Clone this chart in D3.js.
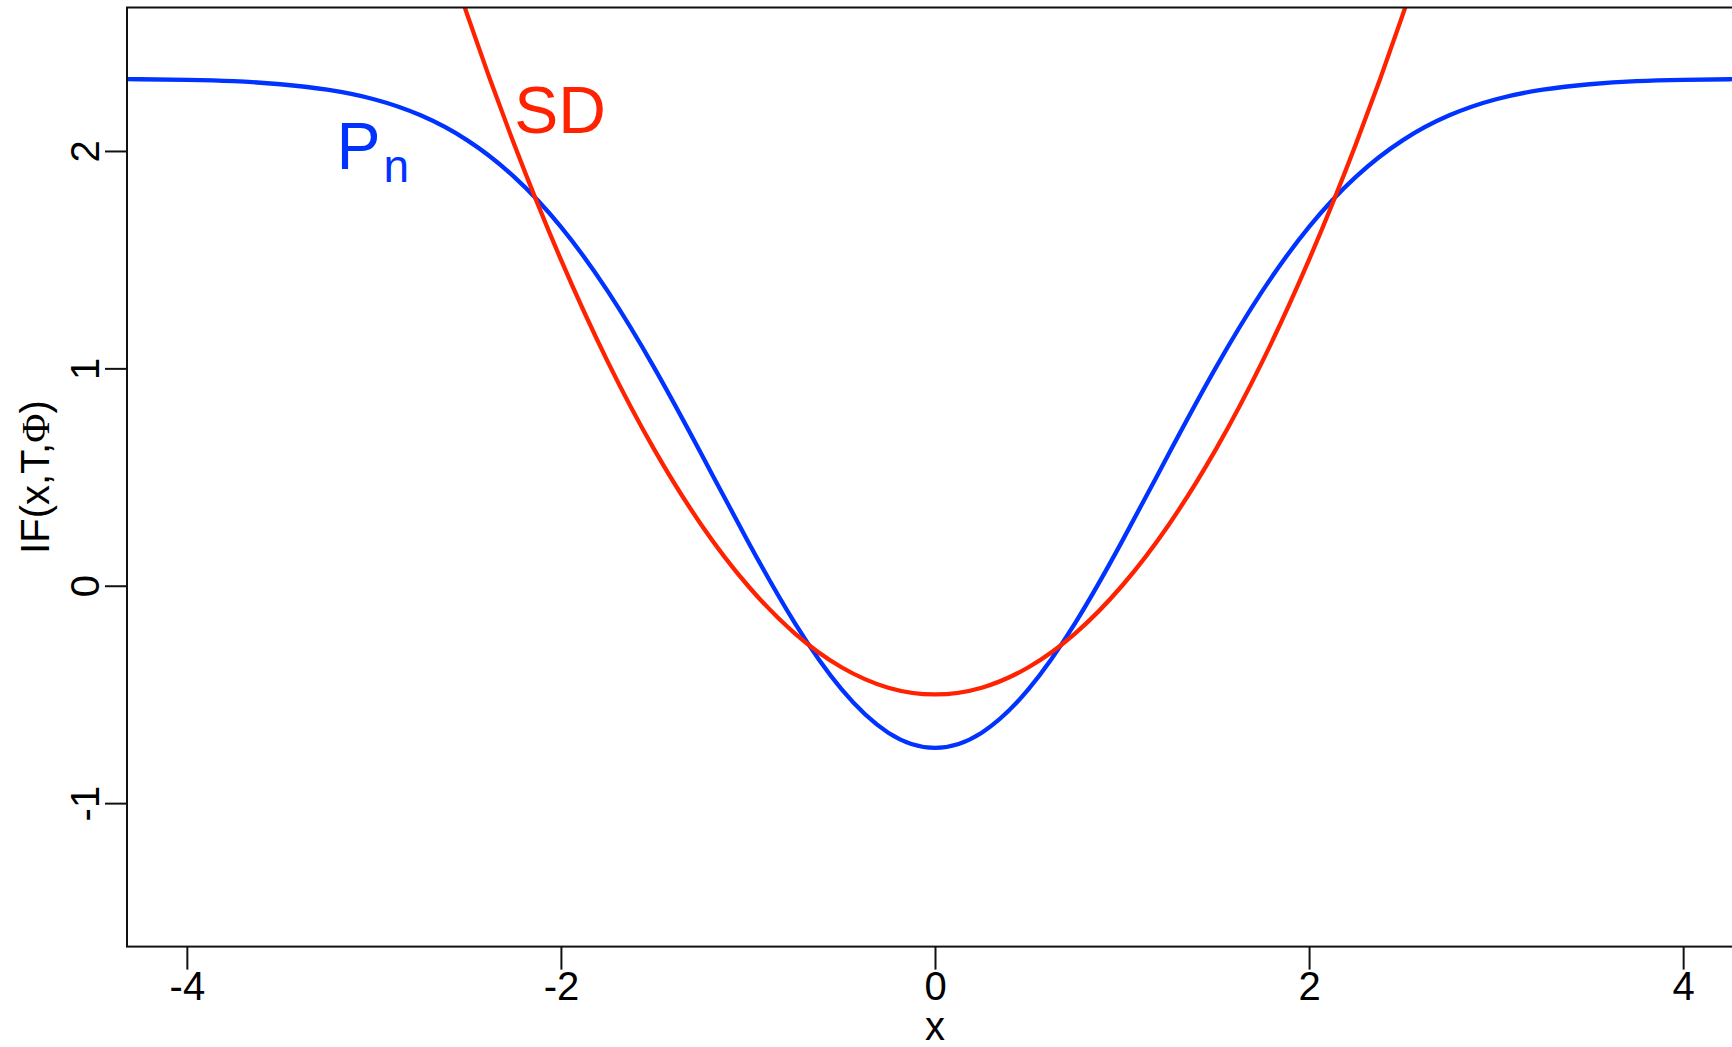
<!DOCTYPE html>
<html>
<head>
<meta charset="utf-8">
<script src="https://cdn.jsdelivr.net/npm/d3@7"></script>
<style>
  html, body { margin: 0; padding: 0; background: #ffffff; overflow: hidden; }
  svg { display: block; }
  text { font-family: "Liberation Sans", Arial, Helvetica, sans-serif; }
</style>
</head>
<body>
<svg id="chart" width="1732" height="1047"></svg>
<script>
// ---- data ----
const xTicks = [-4, -2, 0, 2, 4];
const yTicks = [-1, 0, 1, 2];
const xDomain = [-4.32, 4.32];
const yDomain = [-1.66, 2.66];

const pnX = [-4.5, -4.25, -4, -3.75, -3.5, -3.25, -3, -2.75, -2.5, -2.25, -2, -1.75, -1.5, -1.25, -1, -0.75, -0.5, -0.25,
             0, 0.25, 0.5, 0.75, 1, 1.25, 1.5, 1.75, 2, 2.25, 2.5, 2.75, 3, 3.25, 3.5, 3.75, 4, 4.25, 4.5];
const pnY = [2.332, 2.330, 2.327, 2.321, 2.307, 2.282, 2.238, 2.164, 2.049, 1.881, 1.651, 1.355, 1.001, 0.607, 0.204, -0.171, -0.476, -0.676,
             -0.746, -0.676, -0.476, -0.171, 0.204, 0.607, 1.001, 1.355, 1.651, 1.881, 2.049, 2.164, 2.238, 2.282, 2.307, 2.321, 2.327, 2.330, 2.332];

const sdX = [-2.75, -2.5, -2.25, -2, -1.75, -1.5, -1.25, -1, -0.75, -0.5, -0.25, 0, 0.25, 0.5, 0.75, 1, 1.25, 1.5, 1.75, 2, 2.25, 2.5, 2.75];
const sdY = [3.281, 2.625, 2.031, 1.5, 1.031, 0.625, 0.281, 0, -0.219, -0.375, -0.469, -0.5, -0.469, -0.375, -0.219, 0, 0.281, 0.625, 1.031, 1.5, 2.031, 2.625, 3.281];

const seriesNames = ["P", "SD"];
const seriesColors = ["#0033ff", "#ff2200"];
const xTitle = "x";

// ---- layout ----
const svg = d3.select("#chart");
const mLeft = 127, mRight = 1743, mTop = 7.5, mBottom = 946.6;

const x = d3.scaleLinear().domain(xDomain).range([mLeft, mRight]);
const y = d3.scaleLinear().domain(yDomain).range([mBottom, mTop]);
const plainFormat = d => String(d); // hyphen-minus like the reference

svg.append("rect").attr("width", 1732).attr("height", 1047).attr("fill", "#fff");

svg.append("defs").append("clipPath").attr("id", "plotclip")
  .append("rect").attr("x", mLeft).attr("y", mTop).attr("width", mRight - mLeft).attr("height", mBottom - mTop);

const line = d3.line().x(d => x(d[0])).y(d => y(d[1])).curve(d3.curveNatural);

const plot = svg.append("g").attr("clip-path", "url(#plotclip)");
plot.append("path")
  .datum(pnX.map((v, i) => [v, pnY[i]]))
  .attr("d", line).attr("fill", "none")
  .attr("stroke", seriesColors[0]).attr("stroke-width", 4.3).attr("stroke-linejoin", "round");
plot.append("path")
  .datum(sdX.map((v, i) => [v, sdY[i]]))
  .attr("d", line).attr("fill", "none")
  .attr("stroke", seriesColors[1]).attr("stroke-width", 4.3).attr("stroke-linejoin", "round");

// box (right side falls outside the page)
svg.append("rect").attr("x", mLeft).attr("y", mTop).attr("width", mRight - mLeft).attr("height", mBottom - mTop)
  .attr("fill", "none").attr("stroke", "#111").attr("stroke-width", 2);

// x axis
const xAxis = svg.append("g").attr("transform", `translate(0,${mBottom})`)
  .call(d3.axisBottom(x).tickValues(xTicks).tickSize(23).tickPadding(2).tickFormat(plainFormat));
xAxis.select(".domain").remove();
xAxis.selectAll("line").attr("stroke", "#111").attr("stroke-width", 2);
xAxis.selectAll("text").attr("font-size", 40).attr("fill", "#000")
  .attr("dy", null).attr("y", 53.4);

// y axis
const yAxis = svg.append("g").attr("transform", `translate(${mLeft},0)`)
  .call(d3.axisLeft(y).tickValues(yTicks).tickSize(22).tickFormat(plainFormat));
yAxis.select(".domain").remove();
yAxis.selectAll("line").attr("stroke", "#111").attr("stroke-width", 2);
yAxis.selectAll("text").attr("font-size", 40).attr("fill", "#000")
  .attr("x", 0).attr("y", -28).attr("dy", null)
  .attr("text-anchor", "middle").attr("transform", "rotate(-90)");

// axis titles
svg.append("text").attr("x", x(0)).attr("y", 1040).attr("text-anchor", "middle")
  .attr("font-size", 40).attr("fill", "#000").text(xTitle);

const yt = svg.append("text")
  .attr("transform", `translate(49,${(mTop + mBottom) / 2}) rotate(-90)`)
  .attr("text-anchor", "middle").attr("font-size", 40).attr("fill", "#000");
yt.append("tspan").text("IF(x,T,");
yt.append("tspan").attr("font-family", "'Liberation Serif', 'DejaVu Serif', serif").text("Φ");
yt.append("tspan").text(")");

// curve labels
const pn = svg.append("text").attr("x", 336.5).attr("y", 169.3)
  .attr("font-size", 66).attr("fill", seriesColors[0]);
pn.append("tspan").text(seriesNames[0]);
pn.append("tspan").attr("font-size", 46).attr("dx", 3).attr("dy", 12.4).text("n");

svg.append("text").attr("x", 560).attr("y", 132.5).attr("text-anchor", "middle")
  .attr("font-size", 66).attr("fill", seriesColors[1]).text(seriesNames[1]);
</script>
</body>
</html>
